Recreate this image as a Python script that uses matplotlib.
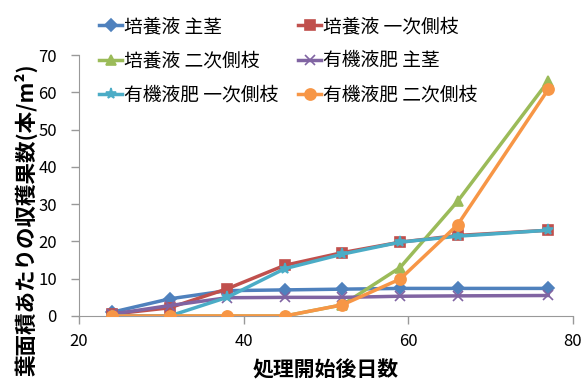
import matplotlib
matplotlib.use("Agg")
import matplotlib.pyplot as plt

plt.rcParams['font.family'] = ['Noto Sans CJK JP', 'DejaVu Sans']

days = [24, 31, 38, 45, 52, 59, 66, 77]
series_names = ["培養液 主茎", "培養液 一次側枝", "培養液 二次側枝",
                "有機液肥 主茎", "有機液肥 一次側枝", "有機液肥 二次側枝"]
baiyo_main = [1.0, 4.6, 6.8, 7.0, 7.2, 7.4, 7.4, 7.4]
baiyo_first = [0.5, 2.2, 7.3, 13.6, 17.0, 19.8, 21.6, 23.0]
baiyo_second = [0.0, 0.0, 0.0, 0.0, 3.0, 13.0, 30.8, 63.0]
yuki_main = [0.5, 2.8, 4.9, 5.0, 5.0, 5.3, 5.4, 5.5]
yuki_first = [0.0, 0.0, 5.0, 12.7, 16.6, 19.8, 21.4, 23.0]
yuki_second = [0.0, 0.0, 0.0, 0.0, 3.0, 9.9, 24.5, 60.8]
x_ticks = [20, 40, 60, 80]
y_ticks = [0, 10, 20, 30, 40, 50, 60, 70]

data = [baiyo_main, baiyo_first, baiyo_second, yuki_main, yuki_first, yuki_second]
colors = ["#4F81BD", "#C0504D", "#9BBB59", "#8064A2", "#4BACC6", "#F79646"]
markers = ["D", "s", "^", "x", "*", "o"]
msizes = [6, 7, 7, 7, 8, 8]

W, H = 585, 380
fig = plt.figure(figsize=(W / 100, H / 100), dpi=100)
ax = fig.add_axes([79 / W, 1 - 316 / H, (573 - 79) / W, (316 - 55) / H])

handles = []
for vals, name, c, m, ms in zip(data, series_names, colors, markers, msizes):
    h, = ax.plot(days, vals, color=c, lw=2.5, marker=m, markersize=ms,
                 markeredgecolor=c, markerfacecolor=c, markeredgewidth=1.2,
                 label=name, zorder=3)
    handles.append(h)

ax.set_xlim(20, 80)
ax.set_ylim(0, 70)
ax.set_xticks(x_ticks)
ax.set_yticks(y_ticks)
ax.tick_params(axis='both', labelsize=12, colors='#999999', labelcolor='black',
               length=6, width=1, direction='out')
ax.tick_params(axis='y', pad=10)
ax.tick_params(axis='x', pad=6)
for s in ['top', 'right']:
    ax.spines[s].set_visible(False)
for s in ['left', 'bottom']:
    ax.spines[s].set_color('#999999')

ax.set_xlabel("処理開始後日数", fontsize=15, fontweight='bold')
ax.xaxis.set_label_coords(0.5, -0.165)
ax.set_ylabel("葉面積あたりの収穫果数(本/m²)", fontsize=15.5, fontweight='bold')
ax.yaxis.set_label_coords(-0.083, 0.37)

col_x = [99 / W, 298 / W]
cols = [[0, 2, 4], [1, 3, 5]]
for cx, idx in zip(col_x, cols):
    fig.legend(handles=[handles[i] for i in idx], loc='upper left',
               bbox_to_anchor=(cx, 1 - 16 / H), ncol=1, frameon=False,
               fontsize=13.5, handlelength=1.25, handletextpad=0.1,
               labelspacing=0.7, borderpad=0, borderaxespad=0)

fig.savefig("out.png", dpi=100)
